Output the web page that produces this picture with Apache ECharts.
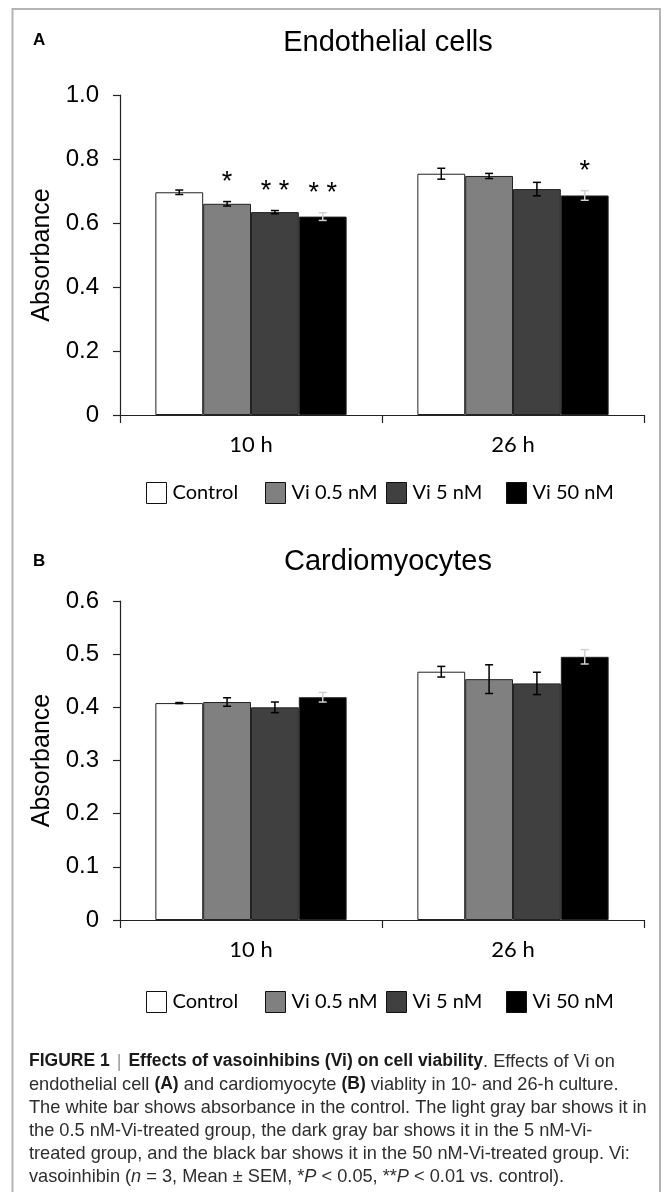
<!DOCTYPE html>
<html>
<head>
<meta charset="utf-8">
<script src="https://cdn.jsdelivr.net/npm/echarts@6/dist/echarts.min.js"></script>
<style>
html,body{margin:0;padding:0;background:#fff;}
#chart{width:665px;height:1201px;}
</style>
</head>
<body>
<div id="chart"></div>
<script>
// ---- data ----
const categories = ['10 h', '26 h'];
const seriesNames = ['Control', 'Vi 0.5 nM', 'Vi 5 nM', 'Vi 50 nM'];

// Panel A: Endothelial cells
const endoControl = [0.696, 0.754];
const endoVi05 = [0.660, 0.747];
const endoVi5 = [0.634, 0.706];
const endoVi50 = [0.620, 0.686];
const endoControlErr = [0.007, 0.017];
const endoVi05Err = [0.007, 0.008];
const endoVi5Err = [0.005, 0.021];
const endoVi50Err = [0.012, 0.015];
const endoControlSig = ['', ''];
const endoVi05Sig = ['*', ''];
const endoVi5Sig = ['**', ''];
const endoVi50Sig = ['**', '*'];
const endoTickLabels = ['0', '0.2', '0.4', '0.6', '0.8', '1.0'];

// Panel B: Cardiomyocytes
const cardioControl = [0.408, 0.467];
const cardioVi05 = [0.410, 0.453];
const cardioVi5 = [0.400, 0.445];
const cardioVi50 = [0.419, 0.495];
const cardioControlErr = [0.001, 0.010];
const cardioVi05Err = [0.008, 0.027];
const cardioVi5Err = [0.010, 0.021];
const cardioVi50Err = [0.009, 0.0135];
const cardioSig = ['', ''];
const cardioTickLabels = ['0', '0.1', '0.2', '0.3', '0.4', '0.5', '0.6'];

// ---- styles ----
const fills = ['#ffffff', '#808080', '#404040', '#000000'];
const errColors = ['#000', '#000', '#000', '#d0d0d0'];
const GAP = 0.27;

const chart = echarts.init(document.getElementById('chart'), null, {renderer: 'canvas'});

function barSeries(name, s, data, gi) {
  return {
    type: 'bar', name: name, xAxisIndex: gi, yAxisIndex: gi,
    data: data, barGap: '0%', barCategoryGap: (GAP * 100) + '%',
    itemStyle: {color: fills[s], borderColor: '#222', borderWidth: 1},
    emphasis: {disabled: true}, silent: true, z: 2
  };
}

function errSeries(s, means, errs, sigs, gi) {
  return {
    type: 'custom', xAxisIndex: gi, yAxisIndex: gi, silent: true, z: 5,
    data: means.map((m, i) => [i, m, errs[i]]),
    renderItem: function (params, api) {
      const i = api.value(0), m = api.value(1), e = api.value(2);
      const sig = sigs[params.dataIndex];
      const catW = api.size([1, 0])[0];
      const bw = catW * (1 - GAP) / 4;
      const c = api.coord([i, m]);
      const x = c[0] + (s - 1.5) * bw;
      const yT = api.coord([i, m + e])[1];
      const yB = api.coord([i, m - e])[1];
      const st = {stroke: errColors[s], lineWidth: 1.5};
      const ch = [
        {type: 'line', shape: {x1: x, y1: yT, x2: x, y2: yB}, style: st},
        {type: 'line', shape: {x1: x - 4, y1: yT, x2: x + 4, y2: yT}, style: st},
        {type: 'line', shape: {x1: x - 4, y1: yB, x2: x + 4, y2: yB}, style: st}
      ];
      if (sig) {
        ch.push({type: 'text', style: {
          text: sig.split('').join(' '), x: x, y: yT - 19,
          align: 'center', verticalAlign: 'middle',
          font: '27px "Liberation Sans", Arial, sans-serif', fill: '#000'
        }});
      }
      return {type: 'group', children: ch};
    }
  };
}

function xAxisCfg(gi) {
  return {
    type: 'category', gridIndex: gi, data: categories,
    axisLine: {lineStyle: {color: '#222', width: 1.2}},
    axisTick: {show: true, length: 8, inside: false, alignWithLabel: false, lineStyle: {color: '#222', width: 1.2}},
    axisLabel: {margin: 19, fontFamily: 'Lato', fontSize: 22, color: '#000'}
  };
}

function yAxisCfg(gi, max, interval, labels) {
  return {
    type: 'value', gridIndex: gi, min: 0, max: max, interval: interval,
    name: 'Absorbance', nameLocation: 'middle', nameGap: 58, nameRotate: 90,
    nameTextStyle: {fontFamily: '"Liberation Sans", Arial, sans-serif', fontSize: 25, color: '#000'},
    axisLine: {show: true, lineStyle: {color: '#222', width: 1.2}},
    axisTick: {show: true, length: 7, lineStyle: {color: '#222', width: 1.2}},
    splitLine: {show: false},
    axisLabel: {
      margin: 21, fontFamily: '"Liberation Sans", Arial, sans-serif', fontSize: 24, color: '#000',
      formatter: function (v, idx) { return labels[idx]; }
    }
  };
}

const legendLefts = [146, 265, 386, 506];
function legends(top) {
  return seriesNames.map((n, k) => ({
    data: [n], left: legendLefts[k], top: top, padding: 0,
    itemWidth: 20, itemHeight: 21, icon: 'rect', selectedMode: false,
    itemStyle: {borderColor: '#111', borderWidth: 1},
    textStyle: {fontFamily: 'Lato', fontSize: 20, color: '#000', padding: [0, 0, 0, 1]}
  }));
}

const endoMeans = [endoControl, endoVi05, endoVi5, endoVi50];
const endoErrs = [endoControlErr, endoVi05Err, endoVi5Err, endoVi50Err];
const endoSigs = [endoControlSig, endoVi05Sig, endoVi5Sig, endoVi50Sig];
const cardioMeans = [cardioControl, cardioVi05, cardioVi5, cardioVi50];
const cardioErrs = [cardioControlErr, cardioVi05Err, cardioVi5Err, cardioVi50Err];

const series = [];
seriesNames.forEach((n, s) => series.push(barSeries(n, s, endoMeans[s], 0)));
seriesNames.forEach((n, s) => series.push(errSeries(s, endoMeans[s], endoErrs[s], endoSigs[s], 0)));
seriesNames.forEach((n, s) => series.push(barSeries(n, s, cardioMeans[s], 1)));
seriesNames.forEach((n, s) => series.push(errSeries(s, cardioMeans[s], cardioErrs[s], cardioSig, 1)));

const capFont = '"Liberation Sans", Arial, sans-serif';
const FS = 18.2, FSB = 17.5, LH = 23;
const caption = [
  '{b|FIGURE 1}{sep||}{b|Effects of vasoinhibins (Vi) on cell viability}. Effects of Vi on',
  'endothelial cell {b|(A)} and cardiomyocyte {b|(B)} viablity in 10- and 26-h culture.',
  'The white bar shows absorbance in the control. The light gray bar shows it in',
  'the 0.5 nM-Vi-treated group, the dark gray bar shows it in the 5 nM-Vi-',
  'treated group, and the black bar shows it in the 50 nM-Vi-treated group. Vi:',
  'vasoinhibin ({i|n} = 3, Mean \u00b1 SEM, *{i|P} < 0.05, **{i|P} < 0.01 vs. control).'
].join('\n');

const option = {
  animation: false,
  backgroundColor: '#fff',
  grid: [
    {left: 120, width: 524, top: 95, height: 320},
    {left: 120, width: 524, top: 601, height: 319}
  ],
  xAxis: [xAxisCfg(0), xAxisCfg(1)],
  yAxis: [yAxisCfg(0, 1.0, 0.2, endoTickLabels), yAxisCfg(1, 0.6, 0.1, cardioTickLabels)],
  legend: legends(482).concat(legends(991)),
  series: series,
  graphic: [
    {type: 'polyline', silent: true, shape: {points: [[12.5, 1192], [12.5, 9], [660, 9], [660, 1192]]},
      style: {stroke: '#b4b4b4', lineWidth: 2, fill: null}},
    {type: 'text', left: 33, top: 32, style: {text: 'A', font: 'bold 17px "Liberation Sans", Arial, sans-serif', fill: '#000'}},
    {type: 'text', left: 33, top: 553, style: {text: 'B', font: 'bold 17px "Liberation Sans", Arial, sans-serif', fill: '#000'}},
    {type: 'text', x: 388, y: 43, style: {text: 'Endothelial cells', align: 'center', verticalAlign: 'middle',
      font: '29px "Liberation Sans", Arial, sans-serif', fill: '#000'}},
    {type: 'text', x: 388, y: 562, style: {text: 'Cardiomyocytes', align: 'center', verticalAlign: 'middle',
      font: '29px "Liberation Sans", Arial, sans-serif', fill: '#000'}},
    {type: 'text', x: 29, y: 1050, style: {
      text: caption, fontFamily: capFont, fontSize: FS, lineHeight: LH, fill: '#2e2e2e',
      rich: {
        b: {fontFamily: capFont, fontSize: FSB, fontWeight: 'bold', lineHeight: LH, fill: '#1a1a1a'},
        i: {fontFamily: capFont, fontSize: FS, fontStyle: 'italic', lineHeight: LH, fill: '#2e2e2e'},
        sep: {fontFamily: capFont, fontSize: FS, lineHeight: LH, fill: '#999', padding: [0, 7, 0, 7]}
      }
    }}
  ]
};
chart.setOption(option);
</script>
</body>
</html>
